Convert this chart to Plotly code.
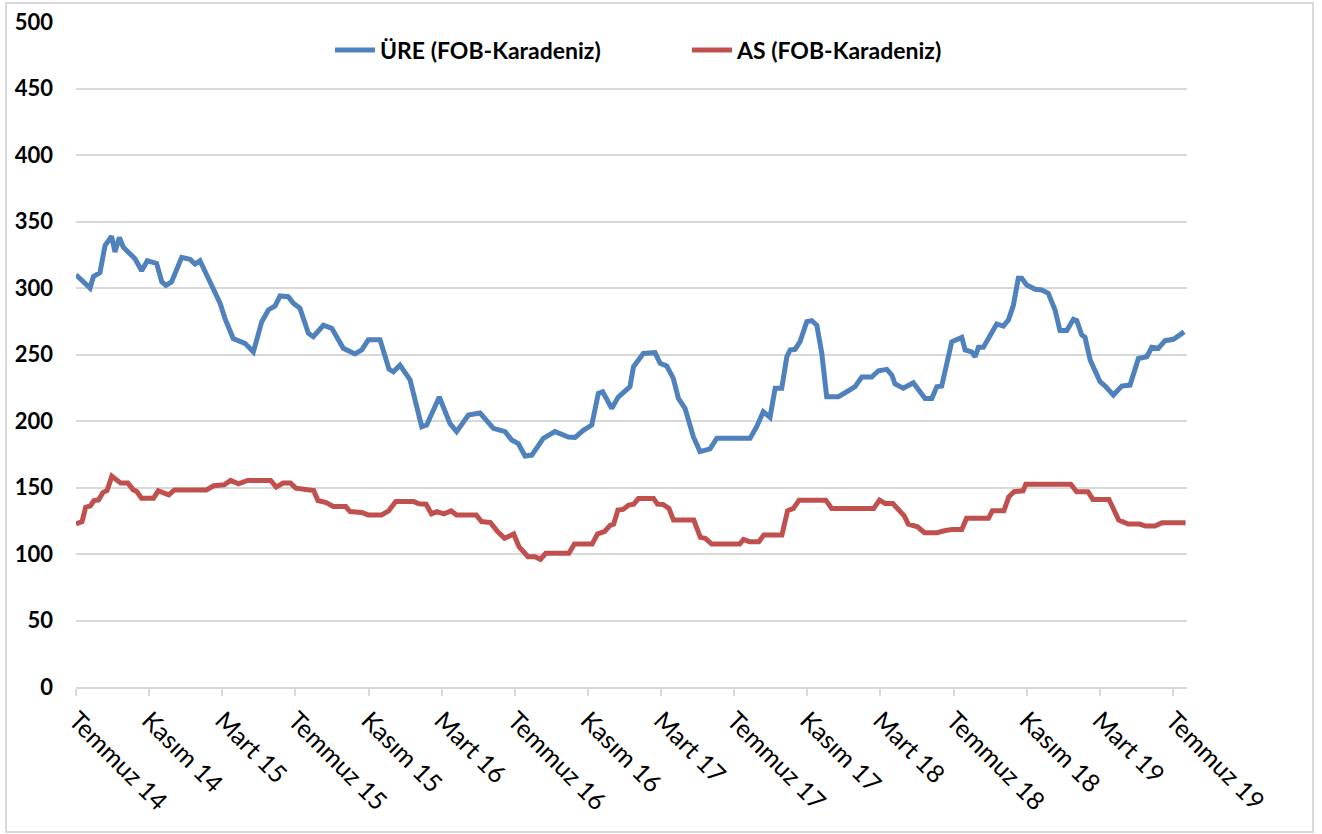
import plotly.graph_objects as go

# Months since July 2014 and values
ure_month = [0.0,0.77,0.95,1.31,1.59,1.95,2.13,2.37,2.59,3.23,
             3.59,3.90,4.41,4.69,4.92,5.23,5.78,6.24,6.51,6.78,
             7.15,7.88,8.15,8.60,9.24,9.70,10.16,10.52,10.89,11.16,
             11.61,11.89,12.25,12.71,12.98,13.53,13.99,14.62,15.26,15.63,
             15.99,16.36,16.63,17.12,17.36,17.72,18.27,18.91,19.18,19.87,
             20.46,20.82,21.46,22.10,22.83,23.47,23.83,24.19,24.56,24.93,
             25.56,26.20,26.93,27.30,27.75,28.21,28.57,28.81,29.30,29.66,
             30.30,30.49,31.03,31.67,31.95,32.31,32.67,32.95,33.31,33.77,
             34.13,34.68,35.05,36.87,37.23,37.59,37.96,38.24,38.60,38.88,
             39.06,39.33,39.60,39.97,40.24,40.52,40.79,41.06,41.70,42.16,
             42.61,42.98,43.52,43.89,44.35,44.62,44.80,45.25,45.80,46.44,
             46.81,47.08,47.35,47.90,48.45,48.63,48.99,49.18,49.36,49.63,
             50.36,50.72,51.00,51.27,51.54,51.73,52.00,52.46,52.82,53.18,
             53.55,53.82,54.19,54.55,54.74,55.01,55.19,55.47,56.01,56.29,
             56.74,57.20,57.65,58.11,58.57,58.84,59.20,59.57,60.02,60.30,
             60.61]
ure_vals = [310,300,308.5,311.5,332,339,327,338,330.6,322,
            313,320.5,318.5,304.7,302,304.7,323,321.5,318,320.5,
            309.8,288.5,277,262,258.4,252,274.7,283.5,286.5,294,
            293.5,288.5,284.7,266,263.4,272,269.7,254.7,250.4,253.4,
            261,261.4,261,239,237,242,231,195.7,197,218,
            198,192,204.5,206,194.5,192,185.7,183,173.7,174.4,
            187,192,188,187.7,193,197,220.8,222,209.5,218,
            225.8,240.8,250.8,251.4,243.4,241.4,232,217,209.5,188,
            177,179,187,187,195.7,207,202.8,224.6,224.6,248.3,
            253.4,253.9,259.6,274.7,275.4,272,251,218.3,218.3,222,
            225.8,233,233,237.8,238.8,234.6,227.8,224.6,228.8,217,
            217,225.8,226.3,259.6,262.9,253.4,252,248.3,255.4,255.4,
            273,271.4,276,287,307.3,307.3,302.3,299,298.5,296,
            283.5,268,268,276.4,275.4,264.7,262.9,245.9,229.5,226.3,
            219.5,226.3,227,247,248.3,255.4,254.7,260.4,261.4,264,
            267]

as_month = [0.0,0.33,0.53,0.79,0.98,1.24,1.47,1.70,1.96,2.45,
            2.84,3.13,3.33,3.58,4.24,4.50,5.08,5.38,7.13,7.53,
            8.11,8.46,8.89,9.38,10.65,10.95,11.33,11.73,12.02,12.60,
            13.00,13.23,13.68,14.07,14.75,14.99,15.63,15.97,16.71,17.10,
            17.49,18.47,18.76,19.15,19.44,19.74,20.12,20.52,20.81,21.89,
            22.18,22.67,23.06,23.44,23.94,24.23,24.72,25.11,25.40,25.69,
            26.96,27.26,28.23,28.53,28.91,29.21,29.41,29.64,29.92,30.23,
            30.51,30.76,31.59,31.80,32.11,32.43,32.68,33.79,34.15,34.42,
            34.77,36.30,36.51,36.83,37.35,37.62,38.61,38.92,39.24,39.55,
            41.01,41.33,43.63,43.95,44.26,44.68,45.31,45.52,46.03,46.41,
            47.09,47.50,47.92,48.45,48.71,49.91,50.12,50.75,51.02,51.31,
            51.80,51.95,54.41,54.73,55.35,55.62,56.50,56.76,57.03,57.55,
            58.18,58.50,59.02,59.40,60.69]
as_vals = [122.6,124.4,135.2,136.2,140.2,140.7,146.2,147.7,158.5,153.3,
           153.3,148.2,147,142,142,147.5,144.5,148.2,148.2,151.3,
           152,155.3,152.8,155.3,155.3,150.3,153.3,153.3,149.5,148.7,
           147.7,140.2,138.7,135.7,135.7,131.9,131.2,129.4,129.4,132.4,
           139.4,139.4,137.7,137.4,130.2,131.9,130.2,132.4,129.4,129.4,
           124.4,123.6,116.8,111.8,115.1,105.5,98,98,96,100.5,
           100.5,107.5,107.5,115.1,116.8,121.5,122.5,133,133.5,136.8,
           137.5,141.8,141.8,137.5,137.3,134.3,125.5,125.5,112.5,111.8,
           107.5,107.5,111,109.3,109.3,114.3,114.3,132.5,134.3,140.5,
           140.5,134.3,134.3,140.5,138,138,128.5,122.5,120.5,116,
           116,117.5,118.5,118.5,126.8,126.8,132.5,132.5,143,146.8,
           147.5,152.5,152.5,146.8,146.8,141,141,133.5,125.5,122.5,
           122.5,121,121,123.5,123.5]

tick_months = [0, 4, 8, 12, 16, 20, 24, 28, 32, 36, 40, 44, 48, 52, 56, 60]
tick_labels = ["Temmuz 14", "Kasım 14", "Mart 15", "Temmuz 15", "Kasım 15",
               "Mart 16", "Temmuz 16", "Kasım 16", "Mart 17", "Temmuz 17",
               "Kasım 17", "Mart 18", "Temmuz 18", "Kasım 18", "Mart 19",
               "Temmuz 19"]
y_ticks = [0, 50, 100, 150, 200, 250, 300, 350, 400, 450, 500]

series_names = ["ÜRE (FOB-Karadeniz)", "AS (FOB-Karadeniz)"]
BLUE = "#4F81BD"
RED = "#C0504D"
GRID = "#D9D9D9"
FONT = "Lato"

fig = go.Figure()
fig.add_trace(go.Scatter(x=ure_month, y=ure_vals, mode="lines", name=series_names[0],
                         line=dict(color=BLUE, width=5)))
fig.add_trace(go.Scatter(x=as_month, y=as_vals, mode="lines", name=series_names[1],
                         line=dict(color=RED, width=5)))

W, H = 1322, 834
ml, mr, mt, mb = 76, 135, 22, 147
pw, ph = W - ml - mr, H - mt - mb

def px_x(p):
    return (p - ml) / pw

def px_y(p):
    return (H - mb - p) / ph

fig.update_layout(
    width=W, height=H,
    margin=dict(l=ml, r=mr, t=mt, b=mb, autoexpand=False),
    paper_bgcolor="white", plot_bgcolor="white",
    font=dict(family=FONT, color="black"),
    showlegend=True,
    legend=dict(orientation="h", x=px_x(330), xanchor="left", y=px_y(50), yanchor="middle",
                font=dict(family=FONT, size=23, color="black", weight="bold"),
                bgcolor="rgba(0,0,0,0)", entrywidth=302, entrywidthmode="pixels",
                itemwidth=40, tracegroupgap=0),
    xaxis=dict(range=[0, pw / 18.283], tickmode="array", tickvals=tick_months,
               ticktext=tick_labels, tickangle=45, showgrid=False, zeroline=False,
               showline=True, linecolor=GRID, linewidth=2, ticks="outside",
               ticklen=7, tickwidth=2, tickcolor=GRID,
               tickfont=dict(family=FONT, size=25, color="black")),
    yaxis=dict(range=[0, 500], tickmode="array", tickvals=y_ticks, showgrid=True,
               gridcolor=GRID, gridwidth=2, zeroline=False, showline=False,
               ticks="", ticklabelstandoff=22,
               tickfont=dict(family=FONT, size=22, color="black", weight="bold")),
    shapes=[dict(type="rect", xref="paper", yref="paper",
                 x0=px_x(6), x1=px_x(1313), y0=px_y(832), y1=px_y(3),
                 line=dict(color=GRID, width=2), fillcolor="rgba(0,0,0,0)", layer="below")],
)

fig.write_html("out.html", config={"displayModeBar": False},
               post_script="document.body.style.margin='0';")
